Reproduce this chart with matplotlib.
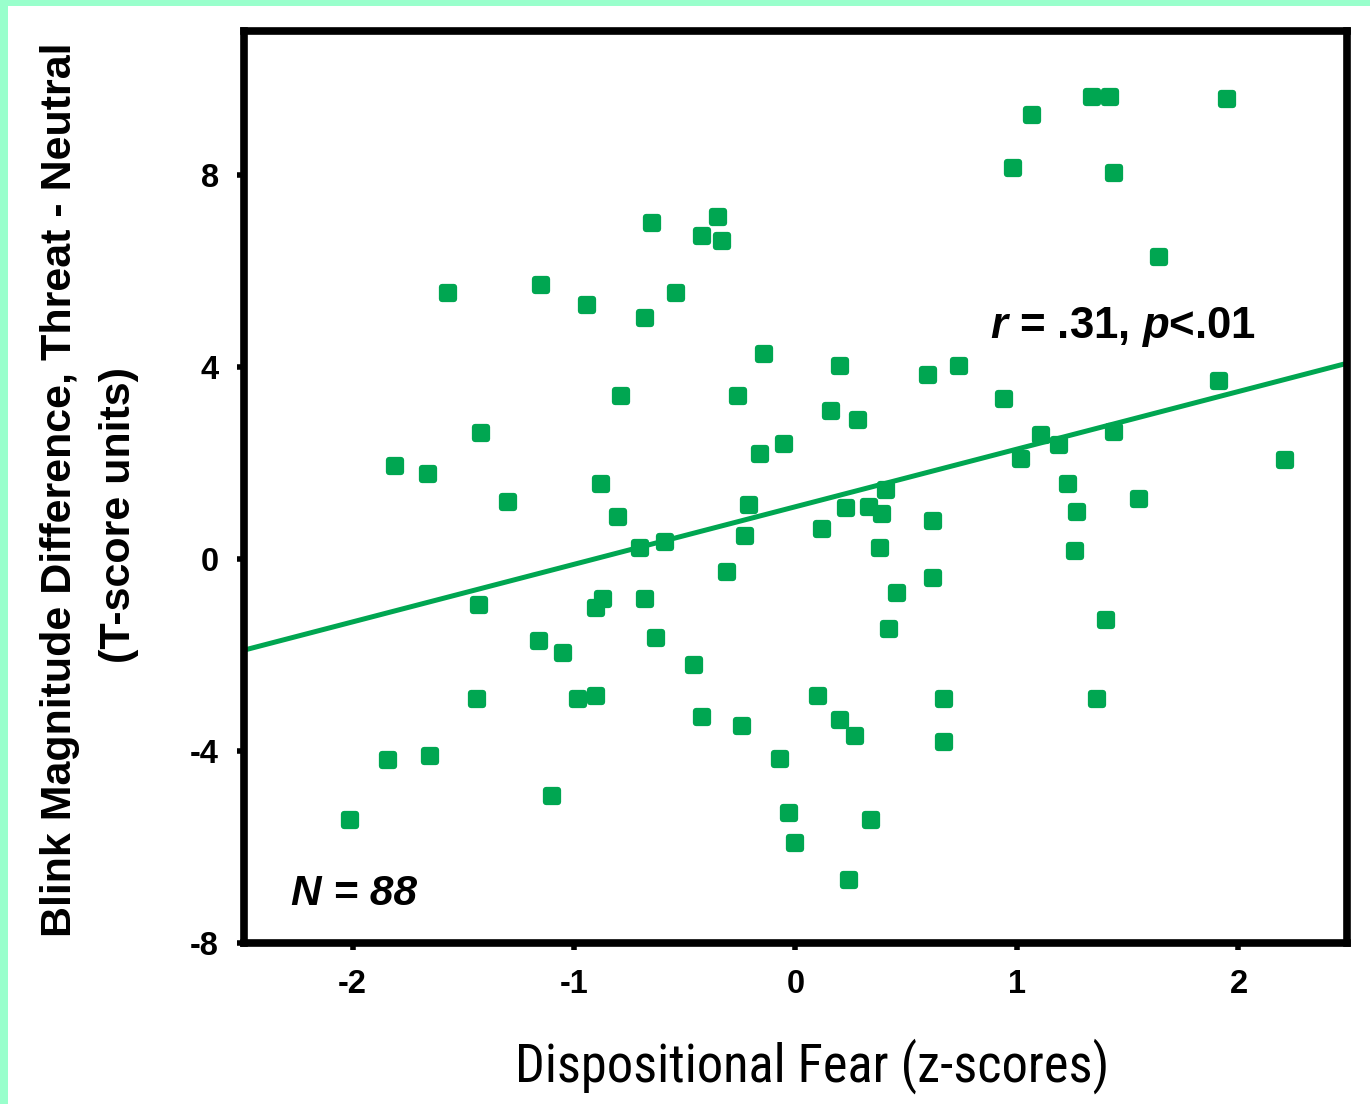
import matplotlib
matplotlib.use('Agg')
import matplotlib.pyplot as plt
from matplotlib import font_manager
from matplotlib.markers import MarkerStyle
from matplotlib.patches import Rectangle
import numpy as np

# values (z-scores vs T-score difference)
fear_z = [-2.01, -1.84, -1.81, -1.65, -1.66, -1.57, -1.44, -1.43, -1.42, -1.30,
          -1.16, -1.15, -1.10, -1.05, -0.98, -0.94, -0.90, -0.90, -0.88, -0.87,
          -0.80, -0.79, -0.70, -0.68, -0.68, -0.65, -0.63, -0.59, -0.54, -0.46,
          -0.42, -0.42, -0.35, -0.33, -0.31, -0.26, -0.24, -0.23, -0.21, -0.16,
          -0.14, -0.07, -0.05, -0.03, 0.00, 0.10, 0.12, 0.16, 0.20, 0.20,
          0.23, 0.24, 0.27, 0.28, 0.33, 0.34, 0.38, 0.39, 0.41, 0.42,
          0.46, 0.60, 0.62, 0.62, 0.67, 0.67, 0.74, 0.94, 0.98, 1.02,
          1.07, 1.11, 1.19, 1.23, 1.26, 1.27, 1.34, 1.36, 1.40, 1.42,
          1.44, 1.44, 1.55, 1.64, 1.91, 1.95, 2.21]
blink_diff = [-5.44, -4.19, 1.94, -4.10, 1.77, 5.54, -2.92, -0.96, 2.63, 1.19,
              -1.71, 5.71, -4.94, -1.96, -2.92, 5.29, -1.02, -2.85, 1.56, -0.83,
              0.88, 3.40, 0.23, 5.02, -0.83, 7.00, -1.65, 0.35, 5.54, -2.21,
              6.73, -3.29, 7.13, 6.63, -0.27, 3.40, -3.48, 0.48, 1.13, 2.19,
              4.27, -4.17, 2.40, -5.29, -5.92, -2.85, 0.63, 3.08, 4.02, -3.35,
              1.06, -6.69, -3.69, 2.90, 1.08, -5.44, 0.23, 0.94, 1.44, -1.46,
              -0.71, 3.83, 0.79, -0.40, -2.92, -3.81, 4.02, 3.33, 8.15, 2.08,
              9.25, 2.58, 2.38, 1.56, 0.17, 0.98, 9.63, -2.92, -1.27, 9.63,
              8.04, 2.65, 1.25, 6.29, 3.71, 9.58, 2.06]

# regression line as drawn in the figure
fit_intercept = 1.09
fit_slope = 1.20

x_ticks = [-2, -1, 0, 1, 2]
x_tick_labels = ['-2', '-1', '0', '1', '2']
y_ticks = [-8, -4, 0, 4, 8]
y_tick_labels = ['-8', '-4', '0', '4', '8']

stats_label = r'$r$ = .31, $p$<.01'
n_label = 'N = 88'
x_title = 'Dispositional Fear (z-scores)'
y_title_1 = 'Blink Magnitude Difference, Threat - Neutral'
y_title_2 = '(T-score units)'

GREEN = '#00A651'
MINT = '#99FFCC'

installed = {f.name for f in font_manager.fontManager.ttflist}
base_font = 'Liberation Sans' if 'Liberation Sans' in installed else 'DejaVu Sans'


def pick_narrow_font():
    # the x title uses an Arial Narrow look; take the best condensed sans we have
    for name in ['Liberation Sans Narrow', 'Arial Narrow', 'Roboto Condensed',
                 'Open Sans Condensed', 'Noto Sans Condensed']:
        if name in installed:
            return dict(family=name)
    sans = ['Liberation Sans', 'Roboto', 'Open Sans', 'Noto Sans', 'Inter', 'Lato']
    for fam in sans:
        for f in font_manager.fontManager.ttflist:
            if (f.name == fam and f.style == 'normal'
                    and str(f.stretch) in ('condensed', 'semi-condensed', 'extra-condensed')):
                return dict(family=fam, stretch=f.stretch)
    return dict(family='DejaVu Sans', stretch='condensed')


narrow_kw = pick_narrow_font()

plt.rcParams['font.family'] = base_font
plt.rcParams['axes.unicode_minus'] = False
plt.rcParams['mathtext.fontset'] = 'custom'
plt.rcParams['mathtext.it'] = base_font + ':italic:bold'
plt.rcParams['mathtext.rm'] = base_font + ':bold'
plt.rcParams['mathtext.bf'] = base_font + ':bold'

fig = plt.figure(figsize=(13.7, 11.04), dpi=100, facecolor='white')
ax = fig.add_axes([0.1781, 0.1458, 0.8051, 0.8261])

# mint frame along the top and left edge
fig.patches.append(Rectangle((0, 1 - 6 / 1104), 1, 6 / 1104, transform=fig.transFigure,
                             facecolor=MINT, edgecolor='none', zorder=0))
fig.patches.append(Rectangle((0, 0), 8 / 1370, 1, transform=fig.transFigure,
                             facecolor=MINT, edgecolor='none', zorder=0))

xlim = (-2.49, 2.49)
ax.set_xlim(*xlim)
ax.set_ylim(-8, 11)

xs = np.array(xlim)
ax.plot(xs, fit_intercept + fit_slope * xs, color=GREEN, lw=3.6, zorder=2,
        solid_capstyle='butt')

marker = MarkerStyle('s', joinstyle='round')
ax.plot(fear_z, blink_diff, linestyle='none', marker=marker, ms=8,
        mfc=GREEN, mec=GREEN, mew=4.5, zorder=3)

for side in ['left', 'right', 'top', 'bottom']:
    ax.spines[side].set_linewidth(5.5)
    ax.spines[side].set_color('black')

ax.set_xticks(x_ticks)
ax.set_xticklabels(x_tick_labels)
ax.set_yticks(y_ticks)
ax.set_yticklabels(y_tick_labels)
ax.tick_params(direction='out', length=5, width=4, color='black')
ax.tick_params(axis='x', pad=14, labelsize=23.5)
ax.tick_params(axis='y', pad=13, labelsize=23.5)
for lab in ax.get_xticklabels() + ax.get_yticklabels():
    lab.set_fontweight('bold')

ax.text(0.88, 4.6, stats_label, fontsize=31.5, fontweight='bold',
        ha='left', va='baseline')
ax.text(-2.278, -7.21, n_label, fontsize=30.5, fontweight='bold', fontstyle='italic',
        ha='left', va='baseline')

xt = fig.text(812 / 1370, 1 - 1082 / 1104, x_title, fontsize=42, ha='center',
              va='baseline', **narrow_kw)
fig.text(60 / 1370, 1 - 490 / 1104, y_title_1, fontsize=31, fontweight='bold',
         rotation=90, ha='center', va='center')
fig.text(119 / 1370, 1 - 515 / 1104, y_title_2, fontsize=31, fontweight='bold',
         rotation=90, ha='center', va='center')

# shrink the x title until it spans the same width as in the reference (~595 px)
renderer = fig.canvas.get_renderer()
w = xt.get_window_extent(renderer).width
if w > 600:
    xt.set_fontsize(42 * 595 / w)

fig.savefig('out.png', dpi=100, facecolor='white')
